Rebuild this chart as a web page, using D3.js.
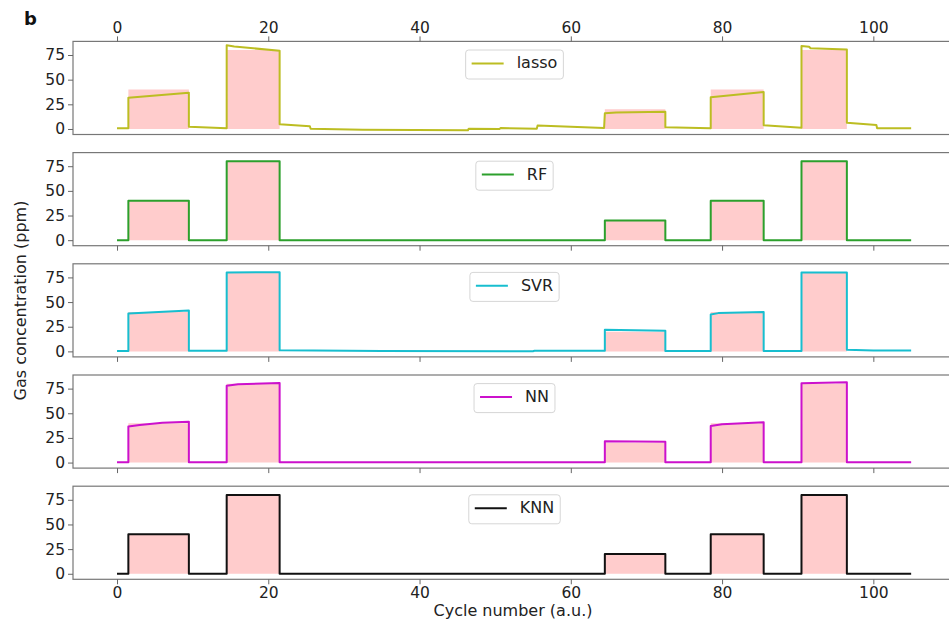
<!DOCTYPE html>
<html>
<head>
<meta charset="utf-8">
<script src="https://cdn.jsdelivr.net/npm/d3@7"></script>
<style>
  body { margin: 0; background: #fff; }
  text { font-family: "DejaVu Sans", sans-serif; }
</style>
</head>
<body>
<div id="chart"></div>
<script>
// measured values, [cycle, ppm]
var truth = [[0,0],[1.5,0],[1.5,40],[9.5,40],[9.5,0],[14.5,0],[14.5,80],[21.5,80],[21.5,0],
             [64.5,0],[64.5,20],[72.5,20],[72.5,0],[78.5,0],[78.5,40],[85.5,40],[85.5,0],
             [90.5,0],[90.5,80],[96.5,80],[96.5,0],[105,0]];

var lasso = [[0,0.7],[1.5,0.7],[1.5,31.7],[9.5,36.8],[9.5,2.3],[14.5,0.7],[14.5,84.8],[15.5,83.6],
             [21.5,79.3],[21.5,4.7],[25.5,2.7],[25.6,0.2],[32.5,-0.7],[46.4,-1.3],[46.5,0.3],
             [50.6,0],[50.7,1],[55.5,0.3],[55.6,3.4],[64.4,1.0],[64.5,16],[66,16.8],[72.5,17.5],
             [72.5,1.7],[78.5,0.7],[78.5,32.1],[85.5,37.5],[85.5,3.7],[90.5,1.3],[90.5,84.1],
             [91.5,83.4],[91.7,81.8],[96.5,80.5],[96.5,6.4],[100.4,4.1],[100.5,0.7],[105,0.7]];

var rf = truth;

var svr = [[0,0.5],[1.5,0.5],[1.5,38.5],[9.5,41.5],[9.5,0.7],[14.5,0.7],[14.5,80],[21.5,80.3],
           [21.5,1.2],[35,0.3],[55,0.2],[55.2,0.6],[64.5,0.6],[64.5,22],[72.5,20.8],[72.5,0.5],
           [78.5,0.5],[78.5,37.5],[79.5,38.8],[85.5,40],[85.5,0.5],[90.5,0.5],[90.5,80],
           [96.5,80],[96.5,1.6],[100,1],[105,0.8]];

var nn = [[0,0.3],[1.5,0.3],[1.5,36.5],[3,38.2],[6,40.5],[9.5,41.5],[9.5,0.3],[14.5,0.3],
          [14.5,78],[16,79.5],[21.5,80.7],[21.5,0.3],[64.5,0.3],[64.5,21.5],[72.5,21],[72.5,0.3],
          [78.5,0.3],[78.5,37],[80,38.8],[85.5,41],[85.5,0.3],[90.5,0.3],[90.5,80.5],
          [96.5,81.5],[96.5,0.3],[105,0.3]];

var knn = truth;

var names = ["lasso", "RF", "SVR", "NN", "KNN"];
var series = [lasso, rf, svr, nn, knn];
var colors = ["#bcbd22", "#2ca02c", "#17becf", "#cc11cc", "#111111"];

var xTicks = [0, 20, 40, 60, 80, 100];
var yTicks = [0, 25, 50, 75];

// layout
var W = 949, H = 626;
var left = 73, right = 956;
var top0 = 41.4, step = 111.2, ph = 93.1;

var svg = d3.select("#chart")
  .append("svg")
    .attr("width", W)
    .attr("height", H)
    .style("display", "block")
    .style("overflow", "hidden");

var x = d3.scaleLinear()
  .domain([-5.82, 110.93])
  .range([left, right]);

function styleAxis(g) {
  g.select(".domain").remove();
  g.selectAll(".tick line").attr("stroke", "#666").attr("stroke-width", 1);
  g.selectAll(".tick text")
    .style("font-size", "15.5px")
    .style("font-family", "DejaVu Sans, sans-serif")
    .attr("fill", "#222");
}

series.forEach(function(data, i) {
  var t = top0 + i * step;
  var y = d3.scaleLinear()
    .domain([-5.6, 88.8])
    .range([t + ph, t]);

  var g = svg.append("g");

  // true concentration
  g.append("path")
    .datum(truth)
    .attr("fill", "#ffcccc")
    .attr("d", d3.area()
      .x(function(d) { return x(d[0]); })
      .y0(y(0))
      .y1(function(d) { return y(d[1]); }));

  // prediction
  g.append("path")
    .datum(data)
    .attr("fill", "none")
    .attr("stroke", colors[i])
    .attr("stroke-width", 2)
    .attr("stroke-linejoin", "round")
    .attr("d", d3.line()
      .x(function(d) { return x(d[0]); })
      .y(function(d) { return y(d[1]); }));

  // frame
  g.append("rect")
    .attr("x", left)
    .attr("y", t)
    .attr("width", right - left)
    .attr("height", ph)
    .attr("fill", "none")
    .attr("stroke", "#777")
    .attr("stroke-width", 1.2);

  // y axis
  g.append("g")
    .attr("transform", "translate(" + left + ",0)")
    .call(d3.axisLeft(y).tickValues(yTicks).tickSize(5).tickPadding(3))
    .call(styleAxis);

  // x axis
  if (i === 0) {
    g.append("g")
      .attr("transform", "translate(0," + t + ")")
      .call(d3.axisTop(x).tickValues(xTicks).tickSize(5).tickPadding(3))
      .call(styleAxis);
  } else {
    var ax = d3.axisBottom(x).tickValues(xTicks).tickSize(5).tickPadding(3);
    if (i < series.length - 1) ax.tickFormat("");
    g.append("g")
      .attr("transform", "translate(0," + (t + ph) + ")")
      .call(ax)
      .call(styleAxis);
  }

  // legend
  var lg = g.append("g");
  var box = lg.append("rect")
    .attr("fill", "#fff")
    .attr("fill-opacity", 0.8)
    .attr("stroke", "#d6d6d6")
    .attr("stroke-width", 1)
    .attr("rx", 3);
  var lt = lg.append("text")
    .attr("y", t + 27)
    .style("font-size", "16px")
    .attr("fill", "#222")
    .text(names[i]);
  var tw = lt.node().getComputedTextLength();
  var bw = 6 + 32 + 13 + tw + 6;
  var bx = 514.5 - bw / 2;
  box.attr("x", bx).attr("y", t + 8.6).attr("width", bw).attr("height", 29);
  lg.append("line")
    .attr("x1", bx + 6).attr("x2", bx + 38)
    .attr("y1", t + 22).attr("y2", t + 22)
    .attr("stroke", colors[i])
    .attr("stroke-width", 2);
  lt.attr("x", bx + 51);
});

// labels
svg.append("text")
  .attr("x", 513)
  .attr("y", 616)
  .attr("text-anchor", "middle")
  .style("font-size", "16px")
  .attr("fill", "#222")
  .text("Cycle number (a.u.)");

svg.append("text")
  .attr("transform", "translate(26,300.5)rotate(-90)")
  .attr("text-anchor", "middle")
  .style("font-size", "16px")
  .attr("fill", "#222")
  .text("Gas concentration (ppm)");

svg.append("text")
  .attr("x", 24)
  .attr("y", 25)
  .style("font-size", "18px")
  .style("font-weight", "bold")
  .attr("fill", "#111")
  .text("b");
</script>
</body>
</html>
